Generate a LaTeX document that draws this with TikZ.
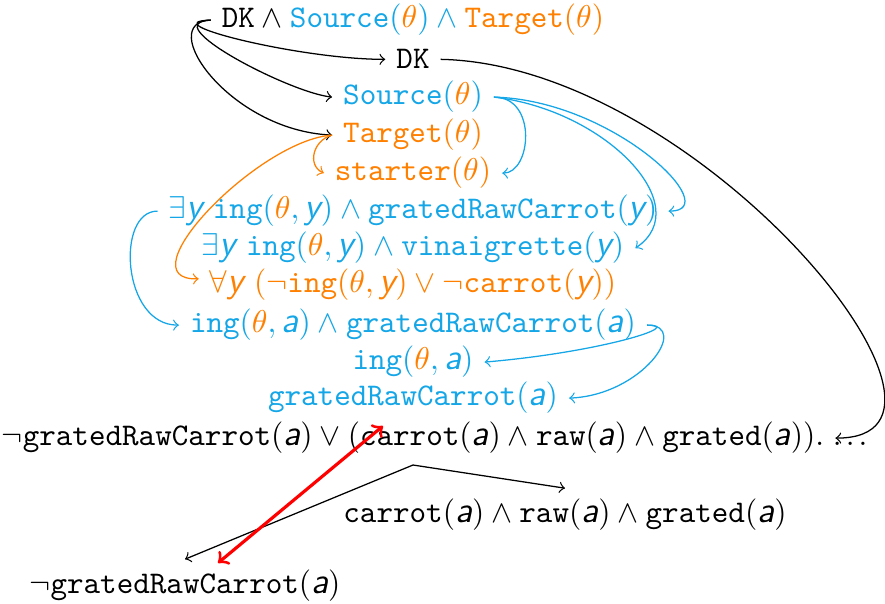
\documentclass[tikz,border=0pt]{standalone}
\usepackage{xcolor}
\definecolor{cb}{RGB}{20,166,230}
\definecolor{orng}{RGB}{255,128,0}
% sans-serif italic variables, as in beamer's sans math
\newcommand\sv[1]{\mbox{\fontsize{11.5pt}{12pt}\sffamily\itshape #1}}
\newcommand\tth{\textcolor{orng}{\theta}}
\begin{document}
\begin{tikzpicture}[x=0.317pt,y=0.317pt,
  ln/.style={anchor=base,inner sep=3.33pt},
  con/.style={->,line width=0.4pt},
  attack/.style={<->,red,line width=1pt}]
\useasboundingbox (0,0) rectangle (885,-604);

% formulas
\node[ln] (L1) at (413,-28) {$\texttt{DK}\wedge{\color{cb}\texttt{Source}(\tth)\wedge\textcolor{orng}{\texttt{Target}(\theta)}}$};
\node[ln] (L2) at (413,-69) {\texttt{DK}};
\node[ln,text=cb] (L3) at (413,-105) {$\texttt{Source}(\tth)$};
\node[ln,text=orng] (L4) at (413,-143) {$\texttt{Target}(\theta)$};
\node[ln,text=orng] (L5) at (413,-181) {$\texttt{starter}(\theta)$};
\node[ln,text=cb] (L6) at (413,-219) {$\exists\sv{y}\ \texttt{ing}(\tth,\sv{y})\wedge\texttt{gratedRawCarrot}(\sv{y})$};
\node[ln,text=cb] (L7) at (413,-256) {$\exists\sv{y}\ \texttt{ing}(\tth,\sv{y})\wedge\texttt{vinaigrette}(\sv{y})$};
\node[ln,text=orng] (L8) at (413,-293) {$\forall\sv{y}\ (\lnot\texttt{ing}(\theta,\sv{y})\vee\lnot\texttt{carrot}(\sv{y}))$};
\node[ln,text=cb] (L9) at (413,-333) {$\texttt{ing}(\tth,\sv{a})\wedge\texttt{gratedRawCarrot}(\sv{a})$};
\node[ln,text=cb] (L10) at (413,-370) {$\texttt{ing}(\tth,\sv{a})$};
\node[ln,text=cb] (L11) at (413,-406) {$\texttt{gratedRawCarrot}(\sv{a})$};
\node[ln] (L12) at (413,-446) {$\lnot\texttt{gratedRawCarrot}(\sv{a})\vee(\texttt{carrot}(\sv{a})\wedge\texttt{raw}(\sv{a})\wedge\texttt{grated}(\sv{a}))$.};
\node[anchor=base west,inner sep=0pt] (more) at ([xshift=-1pt]L12.base east) {.\kern1.3pt.\kern1.3pt.};
\node[ln] (L13) at (565,-523) {$\texttt{carrot}(\sv{a})\wedge\texttt{raw}(\sv{a})\wedge\texttt{grated}(\sv{a})$};
\node[ln] (L14) at (185,-594) {$\lnot\texttt{gratedRawCarrot}(\sv{a})$};

% splitting the conjunction
\draw[con] (L1.west) .. controls +(-60,-2) and +(-86,0) .. (L2.west);
\draw[con] (L1.west) .. controls +(-56,-2) and +(-44,5) .. (L3.west);
\draw[con] (L1.west) .. controls +(-56,-2) and +(-104,5) .. (L4.west);
\draw[con] (L2.east) .. controls +(259,-5) and +(169,0) .. (L12.east);

% definition of a source
\draw[con,cb] (L3.east) .. controls +(44,0) and +(29,0) .. (L5.east);
\draw[con,cb] (L3.east) .. controls +(120,-3) and +(58,0) .. (L6.east);
\draw[con,cb] (L3.east) .. controls +(112,-13) and +(62,42) .. (L7.east);

% definition of a target
\draw[con,orng] (L4.west) .. controls +(-19,-5) and +(-17,8) .. (L5.west);
\draw[con,orng] (L4.west) .. controls +(-74,-5) and +(-76,-2) .. ([yshift=2pt]L8.west);

% instantiating the existential
\draw[con,cb] (L6.west) .. controls +(-42,0) and +(-57,0) .. (L9.west);
\draw[con,cb] (L9.east) .. controls +(39,0) and +(117,10) .. (L10.east);
\draw[con,cb] (L9.east) .. controls +(44,0) and +(73,3) .. (L11.east);

% case split of the disjunction
\draw[con] (L12.south) -- (L13.north);
\draw[con] (L12.south) -- (L14.north);

% conflict
\coordinate (r1) at (383,-426);
\coordinate (r2) at (218,-563);
\draw[attack] (r1) -- (r2);
\end{tikzpicture}
\end{document}
